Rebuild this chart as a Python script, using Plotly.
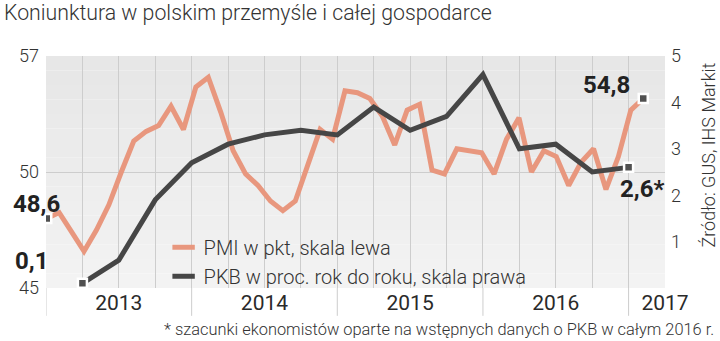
import plotly.graph_objects as go

# PMI for Polish manufacturing, monthly, Jan 2013 - Jan 2017 (points, left scale)
pmi_month = list(range(49))
pmi = [48.6, 48.9, 47.9, 46.9, 48.0, 49.3, 51.0, 52.6, 53.1, 53.4, 54.4, 53.2,
       55.4, 55.9, 54.1, 52.1, 50.9, 50.3, 49.5, 49.0, 49.5, 51.3, 53.2, 52.7,
       55.2, 55.1, 54.8, 53.9, 52.4, 54.2, 54.5, 51.1, 50.9, 52.2, 52.1, 52.0,
       50.9, 52.7, 53.8, 51.0, 52.1, 51.8, 50.3, 51.5, 52.2, 50.1, 51.8, 54.2, 54.8]

# GDP growth y/y, quarterly, 2013 Q1 - 2016 Q4 (%, right scale)
gdp_quarter = list(range(1, 17))
gdp = [0.1, 0.6, 1.9, 2.7, 3.1, 3.3, 3.4, 3.3, 3.9, 3.4, 3.7, 4.6, 3.0, 3.1, 2.5, 2.6]

year_pos = [2, 6, 10, 14, 17]
year_labels = ["2013", "2014", "2015", "2016", "2017"]
year_bounds = [0, 4, 8, 12, 16]

left_ticks = [45, 51, 57]
left_labels = ["45", "50", "57"]
right_ticks = [1, 2, 3, 4, 5]

PMI_COLOR = "#e8977e"
GDP_COLOR = "#464646"
GRID = "#cdcdcd"
TXT = "#333333"
FONT = "Roboto"


def pl(v):
    return f"{v:.1f}".replace(".", ",")


end_marker = dict(symbol="square", size=9, color="#505050",
                  line=dict(color="white", width=2.5))

fig = go.Figure()

fig.add_trace(go.Scatter(x=pmi_month, y=pmi, mode="lines", xaxis="x", yaxis="y",
                         line=dict(color=PMI_COLOR, width=5), showlegend=False,
                         hoverinfo="skip"))
fig.add_trace(go.Scatter(x=[pmi_month[0], pmi_month[-1]], y=[pmi[0], pmi[-1]],
                         mode="markers", xaxis="x", yaxis="y", showlegend=False,
                         marker=end_marker))
fig.add_trace(go.Scatter(x=gdp_quarter, y=gdp, mode="lines", xaxis="x2", yaxis="y2",
                         line=dict(color=GDP_COLOR, width=5), showlegend=False,
                         hoverinfo="skip"))
fig.add_trace(go.Scatter(x=[gdp_quarter[0], gdp_quarter[-1]], y=[gdp[0], gdp[-1]],
                         mode="markers", xaxis="x2", yaxis="y2", showlegend=False,
                         marker=end_marker))

# legend entries with short swatches
for name, col in [("PMI w pkt, skala lewa", PMI_COLOR),
                  ("PKB w proc. rok do roku, skala prawa", GDP_COLOR)]:
    fig.add_trace(go.Scatter(x=[None], y=[None], mode="markers", name=name,
                             xaxis="x", yaxis="y",
                             marker=dict(symbol="line-ew", size=16, color=col,
                                         line=dict(color=col, width=5))))

# soft vertical gradient behind the plot
shapes = []
n = 16
for i in range(n):
    c = int(0xe7 + (0xf3 - 0xe7) * i / (n - 1))
    shapes.append(dict(type="rect", xref="paper", yref="paper", layer="below",
                       x0=0, x1=1, y0=1 - (i + 1) / n, y1=1 - i / n,
                       fillcolor=f"rgb({c},{c},{c})", line=dict(width=0)))
for b in year_bounds:
    shapes.append(dict(type="line", xref="x2", yref="paper", x0=b, x1=b,
                       y0=0, y1=-0.12, line=dict(color=GRID, width=1)))

annotations = [
    dict(x=pmi_month[0], y=pmi[0], xref="x", yref="y", text=pl(pmi[0]),
         xshift=-10, yshift=14),
    dict(x=gdp_quarter[0], y=gdp[0], xref="x2", yref="y2", text=pl(gdp[0]),
         xshift=-51, yshift=22),
    dict(x=pmi_month[-1], y=pmi[-1], xref="x", yref="y", text=pl(pmi[-1]),
         xshift=-37, yshift=14),
    dict(x=gdp_quarter[-1], y=gdp[-1], xref="x2", yref="y2", text=pl(gdp[-1]) + "*",
         xshift=13, yshift=-22),
]
for a in annotations:
    a.update(showarrow=False, xanchor="center", yanchor="middle",
             font=dict(family=FONT, size=24, color="#222222", weight="bold"))

annotations += [
    dict(xref="paper", yref="paper", x=1.082, y=-0.181, xanchor="right",
         yanchor="middle", showarrow=False,
         text="* szacunki ekonomistów oparte na wstępnych danych o PKB w całym 2016 r.",
         font=dict(family=FONT, size=16.4, color=TXT, weight=300)),
    dict(xref="paper", yref="paper", x=1.071, y=0.575, xanchor="center",
         yanchor="middle", showarrow=False, textangle=-90,
         text="Źródło: GUS, IHS Markit",
         font=dict(family=FONT, size=18, color=TXT, weight=300)),
    dict(xref="paper", yref="paper", x=-0.071, y=1.187, xanchor="left",
         yanchor="middle", showarrow=False,
         text="Koniunktura w polskim przemyśle i całej gospodarce",
         font=dict(family=FONT, size=21.3, color=TXT, weight=300)),
]

fig.update_layout(
    width=720, height=341,
    margin=dict(l=46, r=55, t=56, b=53),
    paper_bgcolor="white", plot_bgcolor="rgba(0,0,0,0)",
    font=dict(family=FONT, color=TXT),
    shapes=shapes, annotations=annotations,
    legend=dict(x=0.19, y=0.26, xanchor="left", yanchor="top",
                bgcolor="rgba(0,0,0,0)", tracegroupgap=0,
                font=dict(family=FONT, size=20, color=TXT, weight=300)),
    xaxis=dict(range=[-0.06, 49.75], visible=False),
    xaxis2=dict(overlaying="x", anchor="y", side="bottom", range=[0, 17],
                tickmode="array", tickvals=year_pos, ticktext=year_labels,
                ticks="", showgrid=True, gridcolor=GRID, gridwidth=1,
                minor=dict(tickmode="linear", tick0=0, dtick=1, showgrid=True,
                           gridcolor=GRID, gridwidth=1),
                zeroline=False, showline=False,
                tickfont=dict(family=FONT, size=21, color="#2a2a2a")),
    yaxis=dict(range=[45, 57], tickmode="array", tickvals=left_ticks,
               ticktext=left_labels, showgrid=True, gridcolor=GRID,
               zeroline=False, showline=False, ticks="", ticklabelstandoff=6,
               tickfont=dict(family=FONT, size=18, color=TXT, weight=300)),
    yaxis2=dict(overlaying="y", side="right", anchor="x", range=[0, 5],
                tickmode="array", tickvals=right_ticks, showgrid=False,
                zeroline=False, showline=False, ticks="", ticklabelstandoff=5,
                tickfont=dict(family=FONT, size=18, color=TXT, weight=300)),
)

fig.write_html("out.html")
